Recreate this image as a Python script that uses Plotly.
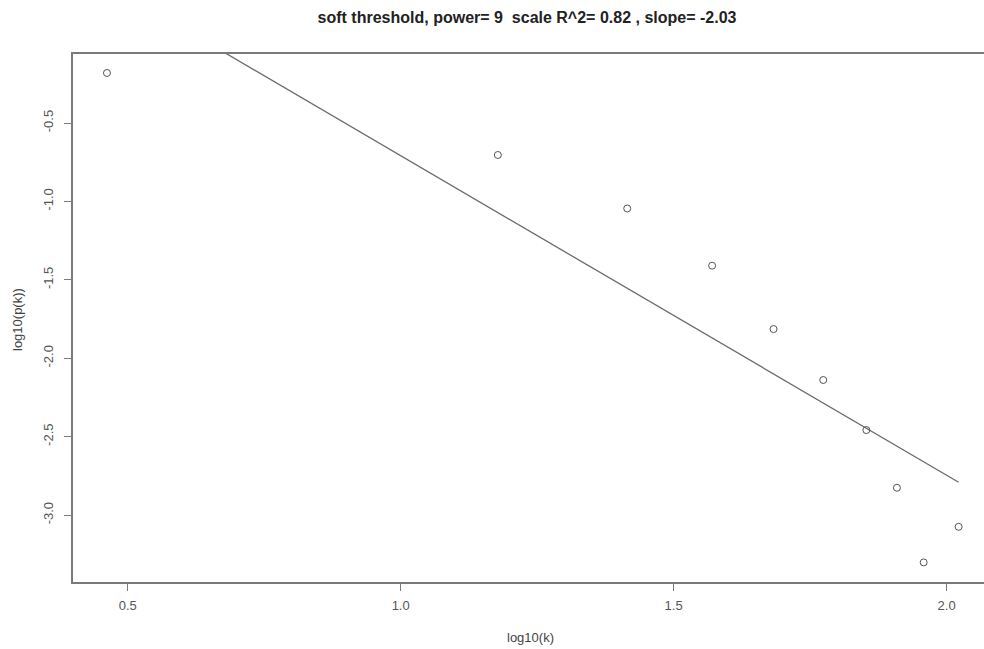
import numpy as np
import plotly.graph_objects as go

# data
log_k = [0.462, 1.178, 1.415, 1.5705, 1.683, 1.774, 1.853, 1.909, 1.958, 2.022]
log_pk = [-0.181, -0.704, -1.045, -1.410, -1.814, -2.139, -2.458, -2.826, -3.302, -3.075]
x_ticks = [0.5, 1.0, 1.5, 2.0]
x_tick_text = ["0.5", "1.0", "1.5", "2.0"]
y_ticks = [-0.5, -1.0, -1.5, -2.0, -2.5, -3.0]
y_tick_text = ["-0.5", "-1.0", "-1.5", "-2.0", "-2.5", "-3.0"]
title_text = "soft threshold, power= 9\u00a0 scale R^2= 0.82 , slope= -2.03"
x_label = "log10(k)"
y_label = "log10(p(k))"

# linear fit, as the original plot does (lm of log10(p(k)) on log10(k))
slope, intercept = np.polyfit(log_k, log_pk, 1)
fit_y = [intercept + slope * v for v in log_k]

fig = go.Figure()
fig.add_trace(go.Scatter(
    x=log_k, y=fit_y, mode="lines",
    line=dict(color="#6a6a6a", width=1.3),
    hoverinfo="skip", showlegend=False,
))
fig.add_trace(go.Scatter(
    x=log_k, y=log_pk, mode="markers",
    marker=dict(symbol="circle-open", size=7, color="#555555", line=dict(width=1)),
    showlegend=False, cliponaxis=False,
))

font_family = "Liberation Sans, Arial, sans-serif"
L, T, B, H, W = 73, 54, 67, 649, 984
PW, PH = W - L, H - T - B


def px_to_paper(px, py):
    return (px - L) / PW, (H - B - py) / PH


xt_x, xt_y = px_to_paper(530, 637)
yt_x, yt_y = px_to_paper(17, 320)

fig.update_layout(
    width=W, height=H,
    margin=dict(l=L, r=0, t=T, b=B),
    paper_bgcolor="white", plot_bgcolor="white",
    font=dict(family=font_family, color="#444444", size=13),
    title=dict(text="<b>" + title_text + "</b>", x=527 / W, xanchor="center",
               y=1 - 17 / H, yanchor="middle",
               font=dict(size=16, color="#222222", family=font_family)),
    xaxis=dict(
        range=[0.3998, 2.0685], tickmode="array", tickvals=x_ticks, ticktext=x_tick_text,
        showgrid=False, zeroline=False, showline=True, mirror=True,
        linecolor="#7a7a7a", linewidth=1.5, ticks="outside", ticklen=7,
        tickcolor="#7a7a7a", tickwidth=1, tickfont=dict(size=13, color="#555555"),
        ticklabelstandoff=4,
    ),
    yaxis=dict(
        range=[-3.427, -0.06], tickmode="array", tickvals=y_ticks, ticktext=y_tick_text,
        showgrid=False, zeroline=False, showline=True, mirror=False,
        linecolor="#7a7a7a", linewidth=1.5, ticks="outside", ticklen=7,
        tickcolor="#7a7a7a", tickwidth=1, tickangle=-90,
        tickfont=dict(size=13, color="#555555"), ticklabelstandoff=6,
    ),
    annotations=[
        dict(text=x_label, xref="paper", yref="paper", x=xt_x, y=xt_y,
             xanchor="center", yanchor="middle", showarrow=False,
             font=dict(size=13, color="#444444")),
        dict(text=y_label, xref="paper", yref="paper", x=yt_x, y=yt_y,
             xanchor="center", yanchor="middle", showarrow=False, textangle=-90,
             font=dict(size=13, color="#444444")),
    ],
)

fig.write_html("out.html")
